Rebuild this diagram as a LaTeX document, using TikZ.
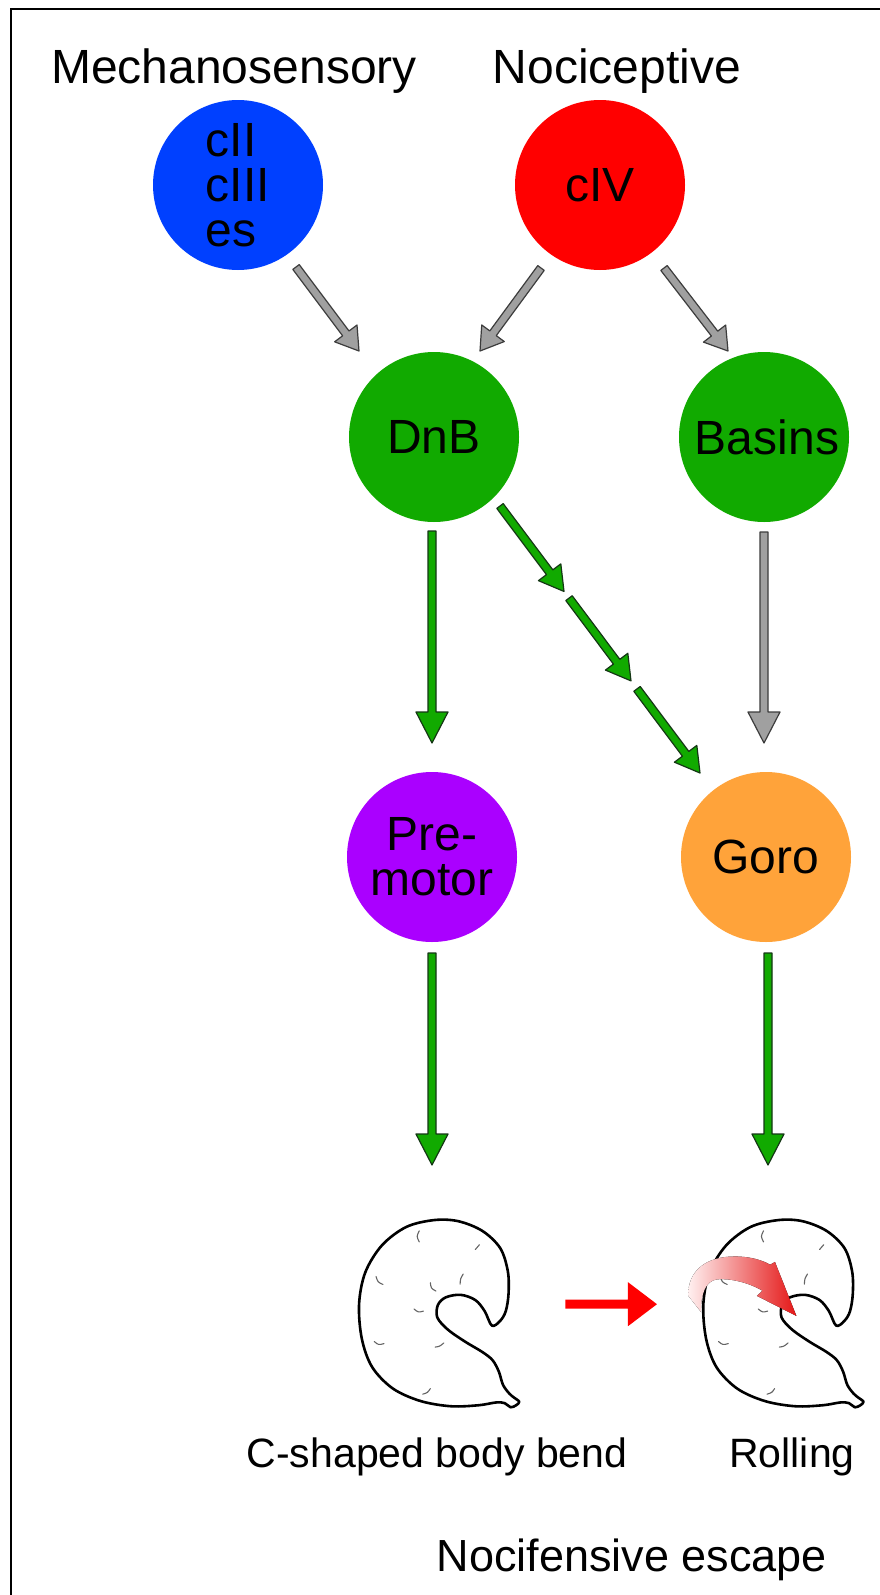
\documentclass[tikz,border=0pt]{standalone}
\usepackage{fontspec}
\setmainfont{Liberation Sans}
\usetikzlibrary{calc}
\definecolor{cblue}{RGB}{0,64,255}
\definecolor{cred}{RGB}{255,0,0}
\definecolor{cgreen}{RGB}{17,170,0}
\definecolor{cpurple}{RGB}{170,0,255}
\definecolor{corange}{RGB}{255,163,58}
\definecolor{agray}{RGB}{160,160,160}
\definecolor{agrayline}{RGB}{60,60,60}
\definecolor{agreenline}{RGB}{20,55,20}
\definecolor{marks}{RGB}{100,100,100}
\newcommand\blockarr[6]{%
  \coordinate (ba-p) at ($(#3)!#6!(#2)$);
  \filldraw[#1] ($(#2)!#4!90:(#3)$) -- ($(ba-p)!#4!90:(#3)$) -- ($(ba-p)!#5!90:(#3)$) -- (#3) -- ($(ba-p)!#5!-90:(#3)$) -- ($(ba-p)!#4!-90:(#3)$) -- ($(#2)!#4!-90:(#3)$) -- cycle;}
\newcommand\larvaoutline{plot[smooth cycle, tension=0.55] coordinates {(468,392) (492,378) (508,350) (516,300) (514,235) (492,168) (440,118) (370,90) (300,87) (220,107) (150,160) (102,238) (84,330) (92,430) (122,512) (182,574) (262,610) (350,625) (430,622) (480,614) (505,616) (522,628) (538,622) (547,612) (532,600) (518,588) (500,563) (488,525) (470,492) (440,468) (390,438) (340,403) (310,368) (312,332) (335,310) (378,303) (420,318) (447,350)}}
\newcommand\larvamarks{%
  \draw[segmark] (258,118) .. controls (250,134) .. (258,150);
  \draw[segmark] (432,158) .. controls (427,165) .. (420,172);
  \draw[segmark] (133,250) .. controls (138,266) .. (153,273);
  \draw[segmark] (385,243) .. controls (377,256) .. (376,272);
  \draw[segmark] (290,268) .. controls (292,284) .. (306,292);
  \draw[segmark] (243,344) .. controls (255,354) .. (270,350);
  \draw[segmark] (128,438) .. controls (140,448) .. (156,444);
  \draw[segmark] (304,454) .. controls (317,452) .. (329,442);
  \draw[segmark] (268,590) .. controls (282,586) .. (290,574);}
\newcommand\circfontsel{\fontsize{48}{45}\selectfont}
\newcommand\titlefontsel{\fontsize{48}{52}\selectfont}
\newcommand\behfontsel{\fontsize{41}{46}\selectfont}
\newcommand\escfontsel{\fontsize{45}{50}\selectfont}
\tikzset{
  circ/.style={circle, minimum size=170pt, inner sep=0pt, font=\circfontsel, text=black},
  titletext/.style={anchor=base, inner sep=0pt, font=\titlefontsel},
  behtext/.style={anchor=base, inner sep=0pt, font=\behfontsel},
  esctext/.style={anchor=base, inner sep=0pt, font=\escfontsel},
  grayarrow/.style={fill=agray, draw=agrayline, line width=1.2pt, line join=round},
  greenarrow/.style={fill=cgreen, draw=agreenline, line width=1.2pt, line join=round},
  redarrow/.style={fill=cred, draw=none},
  segmark/.style={draw=marks, line width=1.1pt, line cap=round},
  larvaline/.style={draw=black, line width=2.6pt, fill=white, line join=round},
}
\begin{document}
\begin{tikzpicture}[x=1pt,y=-1pt]
\useasboundingbox (0,0) rectangle (879,1595);
\fill[white] (0,0) rectangle (879,1595);
\draw[line width=2pt] (11,1600) -- (11,9) -- (884,9);

% titles
\node[titletext] (mechlbl) at (234,83) {Mechanosensory};
\node[titletext] (nocilbl) at (617,83) {Nociceptive};

% neurons
\node[circ, fill=cblue, align=left] (mech) at (238,185) {cII\\cIII\\es};
\node[circ, fill=cred] (civ) at (600,185) {cIV};
\node[circ, fill=cgreen] (dnb) at (434,437) {DnB};
\node[circ, fill=cgreen] (basins) at (764,437) {\hspace*{6pt}Basins};
\node[circ, fill=cpurple, align=center] (premotor) at (432,857) {Pre-\\motor};
\node[circ, fill=corange] (goro) at (766,857) {Goro};

% arrow end points
\coordinate (a1s) at ($(mech)+(58,82)$);
\coordinate (a1e) at ($(dnb)+(-75,-86)$);
\coordinate (a2s) at ($(civ)+(-59,83)$);
\coordinate (a2e) at ($(dnb)+(46,-86)$);
\coordinate (a3s) at ($(civ)+(64,83)$);
\coordinate (a3e) at ($(basins)+(-36,-86)$);
\coordinate (a4s) at ($(dnb)+(-2,94)$);
\coordinate (a4e) at ($(premotor)+(0,-114)$);
\coordinate (a5s) at ($(dnb)+(66,69)$);
\coordinate (a5e) at ($(goro)+(-66,-84)$);
\coordinate (a5m1) at ($(a5s)!0.32!(a5e)$);
\coordinate (a5m2) at ($(a5s)!0.345!(a5e)$);
\coordinate (a5m3) at ($(a5s)!0.655!(a5e)$);
\coordinate (a5m4) at ($(a5s)!0.685!(a5e)$);
\coordinate (a6s) at ($(basins)+(0,95)$);
\coordinate (a6e) at ($(goro)+(-2,-114)$);
\coordinate (a7s) at ($(premotor)+(0,96)$);
\coordinate (cbendtop) at ($(premotor)+(0,308)$);
\coordinate (a8s) at ($(goro)+(2,96)$);
\coordinate (rolltop) at ($(goro)+(2,308)$);

\blockarr{grayarrow}{a1s}{a1e}{4pt}{14pt}{22pt}
\blockarr{grayarrow}{a2s}{a2e}{4pt}{14pt}{22pt}
\blockarr{grayarrow}{a3s}{a3e}{4pt}{14pt}{22pt}
\blockarr{greenarrow}{a4s}{a4e}{4pt}{16pt}{31pt}
\blockarr{greenarrow}{a5s}{a5m1}{4pt}{14pt}{24pt}
\blockarr{greenarrow}{a5m2}{a5m3}{4pt}{14pt}{24pt}
\blockarr{greenarrow}{a5m4}{a5e}{4pt}{14pt}{24pt}
\blockarr{grayarrow}{a6s}{a6e}{4pt}{16pt}{31pt}
\blockarr{greenarrow}{a7s}{cbendtop}{4pt}{16pt}{31pt}
\blockarr{greenarrow}{a8s}{rolltop}{4pt}{16pt}{31pt}

% larvae
\begin{scope}[shift={(330,1190)}, x=0.346pt, y=-0.346pt]
  \draw[larvaline] \larvaoutline;
  \larvamarks
  \begin{scope}[shift={(995,0)}]
    \draw[larvaline] \larvaoutline;
    \larvamarks
  \end{scope}
  \coordinate (ra1) at (680,330);
  \coordinate (ra2) at (945,330);
  \blockarr{redarrow}{ra1}{ra2}{4.5pt}{22pt}{29pt}
  \fill[left color=red!6, right color={rgb,255:red,228;green,22;blue,22}]
    (1035,305) .. controls (1035,230) and (1090,192) .. (1170,192)
    .. controls (1215,192) and (1250,203) .. (1272,216) -- (1286,208) -- (1348,364) -- (1234,306) -- (1250,291)
    .. controls (1210,268) and (1160,255) .. (1120,258)
    .. controls (1085,262) and (1072,300) .. (1072,352) -- cycle;
\end{scope}

% behaviour labels
\node[behtext] (cbend) at (437,1467) {C-shaped body bend};
\node[behtext] (roll) at (792,1467) {Rolling};
\node[esctext] (esc) at (632,1571) {Nocifensive escape};
\end{tikzpicture}
\end{document}
